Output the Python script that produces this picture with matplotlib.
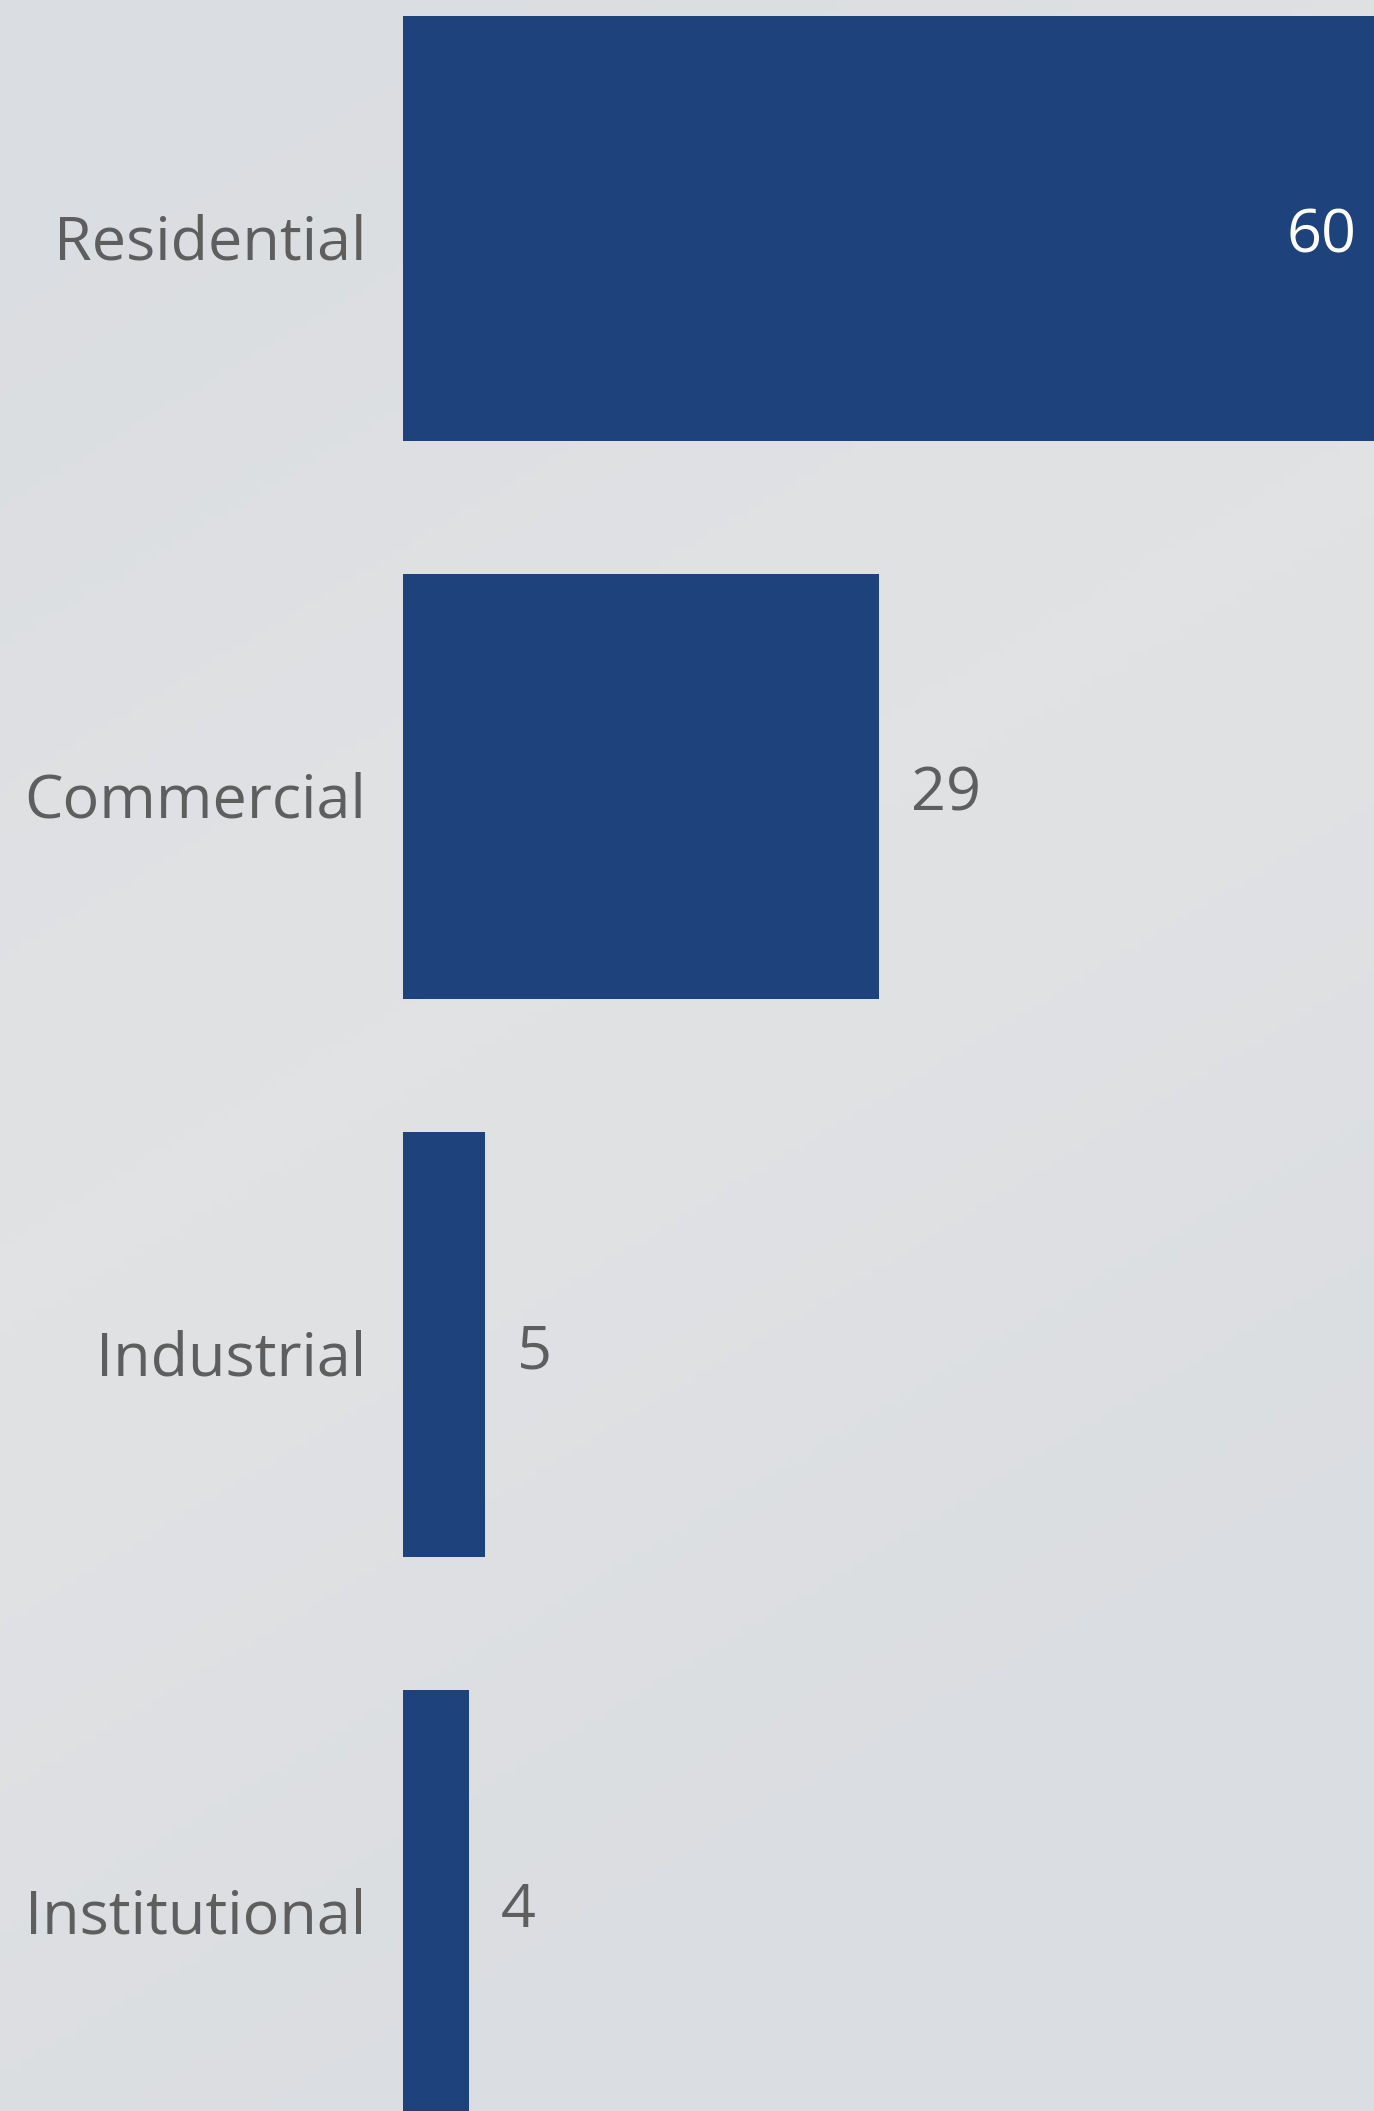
import matplotlib.pyplot as plt
import matplotlib.transforms as mtransforms
import numpy as np

categories = ['Residential', 'Commercial', 'Industrial', 'Institutional']
values = [60, 29, 5, 4]

bar_color = '#1d427c'
text_color = '#5e5e5e'

plt.rcParams['font.family'] = ['Open Sans', 'DejaVu Sans']

fig = plt.figure(figsize=(13.74, 21.11), dpi=100)
fig.patch.set_facecolor('#dde0e3')

# faint diagonal gradient behind everything
bg = fig.add_axes([0, 0, 1, 1], zorder=-1)
yy, xx = np.mgrid[0:1:200j, 0:1:200j]
t = np.exp(-((yy * 0.9 + xx * 0.35 - 0.55) / 0.3) ** 2)
bg.imshow(t, cmap=plt.matplotlib.colors.LinearSegmentedColormap.from_list('bg', ['#dadde1', '#e1e2e4']),
          aspect='auto', extent=[0, 1, 0, 1], origin='upper', vmin=0, vmax=1)
bg.axis('off')

ax = fig.add_axes([403 / 1374, 0, 1 - 403 / 1374, 1])
ax.set_facecolor('none')
y = np.arange(len(categories))
ax.barh(y, values, height=0.762, color=bar_color)
ax.set_xlim(0, 59.2)
ax.set_ylim(3.3736, -0.4095)

for s in ax.spines.values():
    s.set_visible(False)
ax.set_xticks([])
ax.set_yticks(y)
ax.set_yticklabels(categories, fontsize=44, color=text_color)
ax.tick_params(axis='y', length=0, pad=26.5)

# nudge text down a little, like the reference
down = mtransforms.ScaledTranslation(0, -0.08, fig.dpi_scale_trans)
for lab in ax.get_yticklabels():
    lab.set_transform(lab.get_transform() + down)

for yi, v in zip(y, values):
    if v > 50:
        ax.annotate(str(v), (59.2, yi), xytext=(-18, -8), textcoords='offset pixels',
                    ha='right', va='center', fontsize=44, color='white')
    else:
        ax.annotate(str(v), (v, yi), xytext=(32, -8), textcoords='offset pixels',
                    ha='left', va='center', fontsize=44, color=text_color)

fig.savefig('out.png', dpi=100)
